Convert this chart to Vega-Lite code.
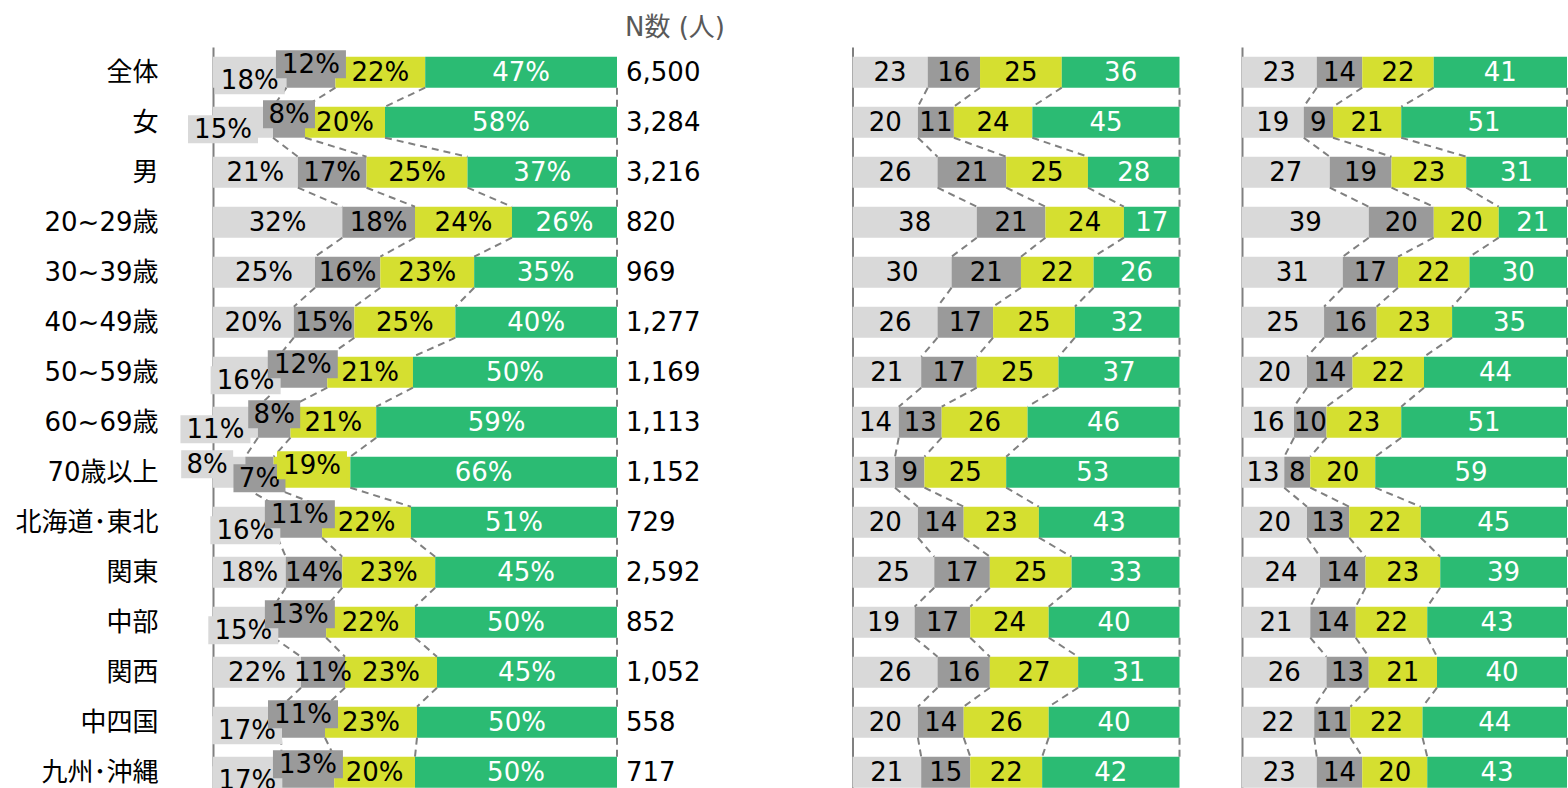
{
"$schema": "https://vega.github.io/schema/vega-lite/v6.json",
"autosize": {"type": "pad"},
"padding": {"left": 14, "top": 15, "right": 0, "bottom": 0},
"background": "white",
"spacing": 62.5,
"bounds": "flush",
"config": {
  "view": {"stroke": null},
  "axis": {"domainColor": "#808080", "domainWidth": 2, "ticks": false, "grid": false, "labels": false, "title": null},
  "text": {"font": "'DejaVu Sans', 'Noto Sans CJK JP'", "fontSize": 26, "baseline": "middle", "dy": 1}
},
"datasets": {
"seg": [
{"p":1,"o":1,"g":"全体","k":"A","v":18},{"p":1,"o":1,"g":"全体","k":"B","v":12},{"p":1,"o":1,"g":"全体","k":"C","v":22},{"p":1,"o":1,"g":"全体","k":"D","v":47},
{"p":1,"o":2,"g":"女","k":"A","v":15},{"p":1,"o":2,"g":"女","k":"B","v":8},{"p":1,"o":2,"g":"女","k":"C","v":20},{"p":1,"o":2,"g":"女","k":"D","v":58},
{"p":1,"o":3,"g":"男","k":"A","v":21},{"p":1,"o":3,"g":"男","k":"B","v":17},{"p":1,"o":3,"g":"男","k":"C","v":25},{"p":1,"o":3,"g":"男","k":"D","v":37},
{"p":1,"o":4,"g":"20~29歳","k":"A","v":32},{"p":1,"o":4,"g":"20~29歳","k":"B","v":18},{"p":1,"o":4,"g":"20~29歳","k":"C","v":24},{"p":1,"o":4,"g":"20~29歳","k":"D","v":26},
{"p":1,"o":5,"g":"30~39歳","k":"A","v":25},{"p":1,"o":5,"g":"30~39歳","k":"B","v":16},{"p":1,"o":5,"g":"30~39歳","k":"C","v":23},{"p":1,"o":5,"g":"30~39歳","k":"D","v":35},
{"p":1,"o":6,"g":"40~49歳","k":"A","v":20},{"p":1,"o":6,"g":"40~49歳","k":"B","v":15},{"p":1,"o":6,"g":"40~49歳","k":"C","v":25},{"p":1,"o":6,"g":"40~49歳","k":"D","v":40},
{"p":1,"o":7,"g":"50~59歳","k":"A","v":16},{"p":1,"o":7,"g":"50~59歳","k":"B","v":12},{"p":1,"o":7,"g":"50~59歳","k":"C","v":21},{"p":1,"o":7,"g":"50~59歳","k":"D","v":50},
{"p":1,"o":8,"g":"60~69歳","k":"A","v":11},{"p":1,"o":8,"g":"60~69歳","k":"B","v":8},{"p":1,"o":8,"g":"60~69歳","k":"C","v":21},{"p":1,"o":8,"g":"60~69歳","k":"D","v":59},
{"p":1,"o":9,"g":"70歳以上","k":"A","v":8},{"p":1,"o":9,"g":"70歳以上","k":"B","v":7},{"p":1,"o":9,"g":"70歳以上","k":"C","v":19},{"p":1,"o":9,"g":"70歳以上","k":"D","v":66},
{"p":1,"o":10,"g":"北海道･東北","k":"A","v":16},{"p":1,"o":10,"g":"北海道･東北","k":"B","v":11},{"p":1,"o":10,"g":"北海道･東北","k":"C","v":22},{"p":1,"o":10,"g":"北海道･東北","k":"D","v":51},
{"p":1,"o":11,"g":"関東","k":"A","v":18},{"p":1,"o":11,"g":"関東","k":"B","v":14},{"p":1,"o":11,"g":"関東","k":"C","v":23},{"p":1,"o":11,"g":"関東","k":"D","v":45},
{"p":1,"o":12,"g":"中部","k":"A","v":15},{"p":1,"o":12,"g":"中部","k":"B","v":13},{"p":1,"o":12,"g":"中部","k":"C","v":22},{"p":1,"o":12,"g":"中部","k":"D","v":50},
{"p":1,"o":13,"g":"関西","k":"A","v":22},{"p":1,"o":13,"g":"関西","k":"B","v":11},{"p":1,"o":13,"g":"関西","k":"C","v":23},{"p":1,"o":13,"g":"関西","k":"D","v":45},
{"p":1,"o":14,"g":"中四国","k":"A","v":17},{"p":1,"o":14,"g":"中四国","k":"B","v":11},{"p":1,"o":14,"g":"中四国","k":"C","v":23},{"p":1,"o":14,"g":"中四国","k":"D","v":50},
{"p":1,"o":15,"g":"九州･沖縄","k":"A","v":17},{"p":1,"o":15,"g":"九州･沖縄","k":"B","v":13},{"p":1,"o":15,"g":"九州･沖縄","k":"C","v":20},{"p":1,"o":15,"g":"九州･沖縄","k":"D","v":50},
{"p":2,"o":1,"g":"全体","k":"A","v":23},{"p":2,"o":1,"g":"全体","k":"B","v":16},{"p":2,"o":1,"g":"全体","k":"C","v":25},{"p":2,"o":1,"g":"全体","k":"D","v":36},
{"p":2,"o":2,"g":"女","k":"A","v":20},{"p":2,"o":2,"g":"女","k":"B","v":11},{"p":2,"o":2,"g":"女","k":"C","v":24},{"p":2,"o":2,"g":"女","k":"D","v":45},
{"p":2,"o":3,"g":"男","k":"A","v":26},{"p":2,"o":3,"g":"男","k":"B","v":21},{"p":2,"o":3,"g":"男","k":"C","v":25},{"p":2,"o":3,"g":"男","k":"D","v":28},
{"p":2,"o":4,"g":"20~29歳","k":"A","v":38},{"p":2,"o":4,"g":"20~29歳","k":"B","v":21},{"p":2,"o":4,"g":"20~29歳","k":"C","v":24},{"p":2,"o":4,"g":"20~29歳","k":"D","v":17},
{"p":2,"o":5,"g":"30~39歳","k":"A","v":30},{"p":2,"o":5,"g":"30~39歳","k":"B","v":21},{"p":2,"o":5,"g":"30~39歳","k":"C","v":22},{"p":2,"o":5,"g":"30~39歳","k":"D","v":26},
{"p":2,"o":6,"g":"40~49歳","k":"A","v":26},{"p":2,"o":6,"g":"40~49歳","k":"B","v":17},{"p":2,"o":6,"g":"40~49歳","k":"C","v":25},{"p":2,"o":6,"g":"40~49歳","k":"D","v":32},
{"p":2,"o":7,"g":"50~59歳","k":"A","v":21},{"p":2,"o":7,"g":"50~59歳","k":"B","v":17},{"p":2,"o":7,"g":"50~59歳","k":"C","v":25},{"p":2,"o":7,"g":"50~59歳","k":"D","v":37},
{"p":2,"o":8,"g":"60~69歳","k":"A","v":14},{"p":2,"o":8,"g":"60~69歳","k":"B","v":13},{"p":2,"o":8,"g":"60~69歳","k":"C","v":26},{"p":2,"o":8,"g":"60~69歳","k":"D","v":46},
{"p":2,"o":9,"g":"70歳以上","k":"A","v":13},{"p":2,"o":9,"g":"70歳以上","k":"B","v":9},{"p":2,"o":9,"g":"70歳以上","k":"C","v":25},{"p":2,"o":9,"g":"70歳以上","k":"D","v":53},
{"p":2,"o":10,"g":"北海道･東北","k":"A","v":20},{"p":2,"o":10,"g":"北海道･東北","k":"B","v":14},{"p":2,"o":10,"g":"北海道･東北","k":"C","v":23},{"p":2,"o":10,"g":"北海道･東北","k":"D","v":43},
{"p":2,"o":11,"g":"関東","k":"A","v":25},{"p":2,"o":11,"g":"関東","k":"B","v":17},{"p":2,"o":11,"g":"関東","k":"C","v":25},{"p":2,"o":11,"g":"関東","k":"D","v":33},
{"p":2,"o":12,"g":"中部","k":"A","v":19},{"p":2,"o":12,"g":"中部","k":"B","v":17},{"p":2,"o":12,"g":"中部","k":"C","v":24},{"p":2,"o":12,"g":"中部","k":"D","v":40},
{"p":2,"o":13,"g":"関西","k":"A","v":26},{"p":2,"o":13,"g":"関西","k":"B","v":16},{"p":2,"o":13,"g":"関西","k":"C","v":27},{"p":2,"o":13,"g":"関西","k":"D","v":31},
{"p":2,"o":14,"g":"中四国","k":"A","v":20},{"p":2,"o":14,"g":"中四国","k":"B","v":14},{"p":2,"o":14,"g":"中四国","k":"C","v":26},{"p":2,"o":14,"g":"中四国","k":"D","v":40},
{"p":2,"o":15,"g":"九州･沖縄","k":"A","v":21},{"p":2,"o":15,"g":"九州･沖縄","k":"B","v":15},{"p":2,"o":15,"g":"九州･沖縄","k":"C","v":22},{"p":2,"o":15,"g":"九州･沖縄","k":"D","v":42},
{"p":3,"o":1,"g":"全体","k":"A","v":23},{"p":3,"o":1,"g":"全体","k":"B","v":14},{"p":3,"o":1,"g":"全体","k":"C","v":22},{"p":3,"o":1,"g":"全体","k":"D","v":41},
{"p":3,"o":2,"g":"女","k":"A","v":19},{"p":3,"o":2,"g":"女","k":"B","v":9},{"p":3,"o":2,"g":"女","k":"C","v":21},{"p":3,"o":2,"g":"女","k":"D","v":51},
{"p":3,"o":3,"g":"男","k":"A","v":27},{"p":3,"o":3,"g":"男","k":"B","v":19},{"p":3,"o":3,"g":"男","k":"C","v":23},{"p":3,"o":3,"g":"男","k":"D","v":31},
{"p":3,"o":4,"g":"20~29歳","k":"A","v":39},{"p":3,"o":4,"g":"20~29歳","k":"B","v":20},{"p":3,"o":4,"g":"20~29歳","k":"C","v":20},{"p":3,"o":4,"g":"20~29歳","k":"D","v":21},
{"p":3,"o":5,"g":"30~39歳","k":"A","v":31},{"p":3,"o":5,"g":"30~39歳","k":"B","v":17},{"p":3,"o":5,"g":"30~39歳","k":"C","v":22},{"p":3,"o":5,"g":"30~39歳","k":"D","v":30},
{"p":3,"o":6,"g":"40~49歳","k":"A","v":25},{"p":3,"o":6,"g":"40~49歳","k":"B","v":16},{"p":3,"o":6,"g":"40~49歳","k":"C","v":23},{"p":3,"o":6,"g":"40~49歳","k":"D","v":35},
{"p":3,"o":7,"g":"50~59歳","k":"A","v":20},{"p":3,"o":7,"g":"50~59歳","k":"B","v":14},{"p":3,"o":7,"g":"50~59歳","k":"C","v":22},{"p":3,"o":7,"g":"50~59歳","k":"D","v":44},
{"p":3,"o":8,"g":"60~69歳","k":"A","v":16},{"p":3,"o":8,"g":"60~69歳","k":"B","v":10},{"p":3,"o":8,"g":"60~69歳","k":"C","v":23},{"p":3,"o":8,"g":"60~69歳","k":"D","v":51},
{"p":3,"o":9,"g":"70歳以上","k":"A","v":13},{"p":3,"o":9,"g":"70歳以上","k":"B","v":8},{"p":3,"o":9,"g":"70歳以上","k":"C","v":20},{"p":3,"o":9,"g":"70歳以上","k":"D","v":59},
{"p":3,"o":10,"g":"北海道･東北","k":"A","v":20},{"p":3,"o":10,"g":"北海道･東北","k":"B","v":13},{"p":3,"o":10,"g":"北海道･東北","k":"C","v":22},{"p":3,"o":10,"g":"北海道･東北","k":"D","v":45},
{"p":3,"o":11,"g":"関東","k":"A","v":24},{"p":3,"o":11,"g":"関東","k":"B","v":14},{"p":3,"o":11,"g":"関東","k":"C","v":23},{"p":3,"o":11,"g":"関東","k":"D","v":39},
{"p":3,"o":12,"g":"中部","k":"A","v":21},{"p":3,"o":12,"g":"中部","k":"B","v":14},{"p":3,"o":12,"g":"中部","k":"C","v":22},{"p":3,"o":12,"g":"中部","k":"D","v":43},
{"p":3,"o":13,"g":"関西","k":"A","v":26},{"p":3,"o":13,"g":"関西","k":"B","v":13},{"p":3,"o":13,"g":"関西","k":"C","v":21},{"p":3,"o":13,"g":"関西","k":"D","v":40},
{"p":3,"o":14,"g":"中四国","k":"A","v":22},{"p":3,"o":14,"g":"中四国","k":"B","v":11},{"p":3,"o":14,"g":"中四国","k":"C","v":22},{"p":3,"o":14,"g":"中四国","k":"D","v":44},
{"p":3,"o":15,"g":"九州･沖縄","k":"A","v":23},{"p":3,"o":15,"g":"九州･沖縄","k":"B","v":14},{"p":3,"o":15,"g":"九州･沖縄","k":"C","v":20},{"p":3,"o":15,"g":"九州･沖縄","k":"D","v":43}
],
"ns": [
{"g":"全体","n":6500},{"g":"女","n":3284},{"g":"男","n":3216},{"g":"20~29歳","n":820},{"g":"30~39歳","n":969},{"g":"40~49歳","n":1277},{"g":"50~59歳","n":1169},{"g":"60~69歳","n":1113},{"g":"70歳以上","n":1152},{"g":"北海道･東北","n":729},{"g":"関東","n":2592},{"g":"中部","n":852},{"g":"関西","n":1052},{"g":"中四国","n":558},{"g":"九州･沖縄","n":717}
]
},
"hconcat": [
{
 "width": 577, "height": 741,
 "title": {"text": "N数 (人)", "anchor": "start", "frame": "group", "dx": 412, "fontSize": 26, "font": "'DejaVu Sans', 'Noto Sans CJK JP'", "fontWeight": "normal", "color": "#595959", "offset": -15, "baseline": "alphabetic"},
 "layer": [
  {"data": {"name": "seg"},
   "transform": [{"filter": "datum.p == 1"}, {"stack": "v", "groupby": ["g"], "sort": [{"field": "k"}], "as": ["v0", "v1"], "offset": "normalize"}],
   "mark": {"type": "bar"},
   "encoding": {
     "x": {"field": "v0", "type": "quantitative", "scale": {"domain": [0, 1], "range": [0, 404], "nice": false}, "axis": null},
     "x2": {"field": "v1"},
     "y": {"field": "g", "type": "nominal", "sort": ["全体","女","男","20~29歳","30~39歳","40~49歳","50~59歳","60~69歳","70歳以上","北海道･東北","関東","中部","関西","中四国","九州･沖縄"],
           "scale": {"paddingInner": 0.38, "paddingOuter": 0.1, "align": 0.97},
           "axis": {"labels": true, "labelFont": "'DejaVu Sans', 'Noto Sans CJK JP'", "labelFontSize": 26, "labelColor": "#000000", "labelPadding": 55, "labelLimit": 0, "labelOffset": 1}},
     "color": {"field": "k", "type": "nominal", "scale": {"domain": ["A","B","C","D"], "range": ["#d9d9d9","#9a9a9a","#d5df30","#2bbb73"]}, "legend": null}
   }},
  {"data": {"name": "seg"},
   "transform": [{"filter": "datum.p == 1"}, {"stack": "v", "groupby": ["g"], "sort": [{"field": "k"}], "as": ["v0", "v1"], "offset": "normalize"},
     {"window": [{"op": "lead", "field": "v1", "as": "nv1"}, {"op": "lead", "field": "g", "as": "ng"}], "groupby": ["k"], "sort": [{"field": "o"}]},
     {"filter": "datum.ng != null"}],
   "mark": {"type": "rule", "strokeDash": [7, 5], "color": "#808080", "strokeWidth": 2},
   "encoding": {
     "x": {"field": "v1", "type": "quantitative"},
     "x2": {"field": "nv1"},
     "y": {"field": "g", "type": "nominal", "sort": ["全体","女","男","20~29歳","30~39歳","40~49歳","50~59歳","60~69歳","70歳以上","北海道･東北","関東","中部","関西","中四国","九州･沖縄"], "bandPosition": 1},
     "y2": {"field": "ng", "bandPosition": 0}
   }},
  {"data": {"name": "seg"},
   "transform": [{"filter": "datum.p == 1"}, {"stack": "v", "groupby": ["g"], "sort": [{"field": "k"}], "as": ["v0", "v1"], "offset": "normalize"},
     {"calculate": "(datum.v0 + datum.v1) / 2", "as": "m"}, {"calculate": "datum.v + '%'", "as": "lab"},
     {"calculate": "datum.k == 'A' ? datum.v : 999", "as": "av"}, {"calculate": "datum.k == 'B' ? datum.v : 999", "as": "bv"},
     {"joinaggregate": [{"op": "min", "field": "av", "as": "A"}, {"op": "min", "field": "bv", "as": "B"}], "groupby": ["g"]},
     {"calculate": "datum.A < 20 && datum.B < 14", "as": "crowd"}],
   "encoding": {
     "x": {"field": "m", "type": "quantitative"},
     "y": {"field": "g", "type": "nominal", "sort": ["全体","女","男","20~29歳","30~39歳","40~49歳","50~59歳","60~69歳","70歳以上","北海道･東北","関東","中部","関西","中四国","九州･沖縄"]}
   },
   "layer": [
     {"transform": [{"filter": "!datum.crowd || datum.k == 'D' || (datum.k == 'C' && datum.A >= 10)"}],
      "mark": {"type": "text"},
      "encoding": {"text": {"field": "lab"}, "color": {"condition": {"test": "datum.k == 'D'", "value": "#ffffff"}, "value": "#000000"}}},
     {"transform": [{"filter": "datum.crowd && datum.k == 'A' && datum.A >= 10 && datum.B >= 10"}],
      "layer": [
        {"mark": {"type": "point", "filled": true, "opacity": 1, "yOffset": 8, "strokeWidth": 0, "shape": "M-1,-0.4H1V0.4H-1Z", "size": 4900},
         "encoding": {"color": {"field": "k", "type": "nominal", "legend": null}}},
        {"mark": {"type": "text", "dy": 9}, "encoding": {"text": {"field": "lab"}, "color": {"value": "#000000"}}}
      ]},
     {"transform": [{"filter": "datum.crowd && datum.k == 'A' && datum.A >= 10 && datum.B < 10"}],
      "layer": [
        {"mark": {"type": "point", "filled": true, "opacity": 1, "xOffset": -20, "yOffset": 7, "strokeWidth": 0, "shape": "M-1,-0.4H1V0.4H-1Z", "size": 4900},
         "encoding": {"color": {"field": "k", "type": "nominal", "legend": null}}},
        {"mark": {"type": "text", "dx": -20, "dy": 8}, "encoding": {"text": {"field": "lab"}, "color": {"value": "#000000"}}}
      ]},
     {"transform": [{"filter": "datum.crowd && datum.k == 'A' && datum.A < 10"}],
      "layer": [
        {"mark": {"type": "point", "filled": true, "opacity": 1, "xOffset": -22, "yOffset": -8, "strokeWidth": 0, "shape": "M-1,-0.54H1V0.54H-1Z", "size": 2704},
         "encoding": {"color": {"field": "k", "type": "nominal", "legend": null}}},
        {"mark": {"type": "text", "dx": -22, "dy": -7}, "encoding": {"text": {"field": "lab"}, "color": {"value": "#000000"}}}
      ]},
     {"transform": [{"filter": "datum.crowd && datum.k == 'B' && datum.A >= 10"}],
      "layer": [
        {"mark": {"type": "point", "filled": true, "opacity": 1, "yOffset": -8, "strokeWidth": 0},
         "encoding": {"color": {"field": "k", "type": "nominal", "legend": null},
           "shape": {"condition": {"test": "datum.v < 10", "value": "M-1,-0.54H1V0.54H-1Z"}, "value": "M-1,-0.4H1V0.4H-1Z"},
           "size": {"condition": {"test": "datum.v < 10", "value": 2704}, "value": 4900}}},
        {"mark": {"type": "text", "dy": -7}, "encoding": {"text": {"field": "lab"}, "color": {"value": "#000000"}}}
      ]},
     {"transform": [{"filter": "datum.crowd && datum.k == 'B' && datum.A < 10"}],
      "layer": [
        {"mark": {"type": "point", "filled": true, "opacity": 1, "yOffset": 6, "strokeWidth": 0, "shape": "M-1,-0.54H1V0.54H-1Z", "size": 2704},
         "encoding": {"color": {"field": "k", "type": "nominal", "legend": null}}},
        {"mark": {"type": "text", "dy": 7}, "encoding": {"text": {"field": "lab"}, "color": {"value": "#000000"}}}
      ]},
     {"transform": [{"filter": "datum.crowd && datum.k == 'C' && datum.A < 10"}],
      "layer": [
        {"mark": {"type": "point", "filled": true, "opacity": 1, "yOffset": -7, "strokeWidth": 0, "shape": "M-1,-0.4H1V0.4H-1Z", "size": 4900},
         "encoding": {"color": {"field": "k", "type": "nominal", "legend": null}}},
        {"mark": {"type": "text", "dy": -6}, "encoding": {"text": {"field": "lab"}, "color": {"value": "#000000"}}}
      ]}
   ]},
  {"data": {"name": "ns"},
   "mark": {"type": "text", "align": "left", "dx": 9},
   "encoding": {
     "x": {"datum": 1, "type": "quantitative"},
     "y": {"field": "g", "type": "nominal", "sort": ["全体","女","男","20~29歳","30~39歳","40~49歳","50~59歳","60~69歳","70歳以上","北海道･東北","関東","中部","関西","中四国","九州･沖縄"]},
     "text": {"field": "n", "type": "quantitative", "format": ","},
     "color": {"value": "#000000"}
   }}
 ]
},
{
 "width": 327, "height": 741,
 "data": {"name": "seg"},
 "transform": [{"filter": "datum.p == 2"}, {"stack": "v", "groupby": ["g"], "sort": [{"field": "k"}], "as": ["v0", "v1"], "offset": "normalize"},
   {"calculate": "(datum.v0 + datum.v1) / 2", "as": "m"}],
 "layer": [
  {"mark": {"type": "bar"},
   "encoding": {
     "x": {"field": "v0", "type": "quantitative", "scale": {"domain": [0, 1], "nice": false}, "axis": null},
     "x2": {"field": "v1"},
     "y": {"field": "g", "type": "nominal", "sort": ["全体","女","男","20~29歳","30~39歳","40~49歳","50~59歳","60~69歳","70歳以上","北海道･東北","関東","中部","関西","中四国","九州･沖縄"],
           "scale": {"paddingInner": 0.38, "paddingOuter": 0.1, "align": 0.97}},
     "color": {"field": "k", "type": "nominal", "legend": null}
   }},
  {"transform": [{"window": [{"op": "lead", "field": "v1", "as": "nv1"}, {"op": "lead", "field": "g", "as": "ng"}], "groupby": ["k"], "sort": [{"field": "o"}]},
     {"filter": "datum.ng != null"}],
   "mark": {"type": "rule", "strokeDash": [7, 5], "color": "#808080", "strokeWidth": 2},
   "encoding": {
     "x": {"field": "v1", "type": "quantitative"},
     "x2": {"field": "nv1"},
     "y": {"field": "g", "type": "nominal", "sort": ["全体","女","男","20~29歳","30~39歳","40~49歳","50~59歳","60~69歳","70歳以上","北海道･東北","関東","中部","関西","中四国","九州･沖縄"], "bandPosition": 1},
     "y2": {"field": "ng", "bandPosition": 0}
   }},
  {"mark": {"type": "text"},
   "encoding": {
     "x": {"field": "m", "type": "quantitative"},
     "y": {"field": "g", "type": "nominal", "sort": ["全体","女","男","20~29歳","30~39歳","40~49歳","50~59歳","60~69歳","70歳以上","北海道･東北","関東","中部","関西","中四国","九州･沖縄"]},
     "text": {"field": "v", "type": "quantitative"},
     "color": {"condition": {"test": "datum.k == 'D'", "value": "#ffffff"}, "value": "#000000"}
   }}
 ]
},
{
 "width": 325, "height": 741,
 "data": {"name": "seg"},
 "transform": [{"filter": "datum.p == 3"}, {"stack": "v", "groupby": ["g"], "sort": [{"field": "k"}], "as": ["v0", "v1"], "offset": "normalize"},
   {"calculate": "(datum.v0 + datum.v1) / 2", "as": "m"}],
 "layer": [
  {"mark": {"type": "bar"},
   "encoding": {
     "x": {"field": "v0", "type": "quantitative", "scale": {"domain": [0, 1], "nice": false}, "axis": null},
     "x2": {"field": "v1"},
     "y": {"field": "g", "type": "nominal", "sort": ["全体","女","男","20~29歳","30~39歳","40~49歳","50~59歳","60~69歳","70歳以上","北海道･東北","関東","中部","関西","中四国","九州･沖縄"],
           "scale": {"paddingInner": 0.38, "paddingOuter": 0.1, "align": 0.97}},
     "color": {"field": "k", "type": "nominal", "legend": null}
   }},
  {"transform": [{"window": [{"op": "lead", "field": "v1", "as": "nv1"}, {"op": "lead", "field": "g", "as": "ng"}], "groupby": ["k"], "sort": [{"field": "o"}]},
     {"filter": "datum.ng != null"}],
   "mark": {"type": "rule", "strokeDash": [7, 5], "color": "#808080", "strokeWidth": 2},
   "encoding": {
     "x": {"field": "v1", "type": "quantitative"},
     "x2": {"field": "nv1"},
     "y": {"field": "g", "type": "nominal", "sort": ["全体","女","男","20~29歳","30~39歳","40~49歳","50~59歳","60~69歳","70歳以上","北海道･東北","関東","中部","関西","中四国","九州･沖縄"], "bandPosition": 1},
     "y2": {"field": "ng", "bandPosition": 0}
   }},
  {"mark": {"type": "text"},
   "encoding": {
     "x": {"field": "m", "type": "quantitative"},
     "y": {"field": "g", "type": "nominal", "sort": ["全体","女","男","20~29歳","30~39歳","40~49歳","50~59歳","60~69歳","70歳以上","北海道･東北","関東","中部","関西","中四国","九州･沖縄"]},
     "text": {"field": "v", "type": "quantitative"},
     "color": {"condition": {"test": "datum.k == 'D'", "value": "#ffffff"}, "value": "#000000"}
   }}
 ]
}
]
}
